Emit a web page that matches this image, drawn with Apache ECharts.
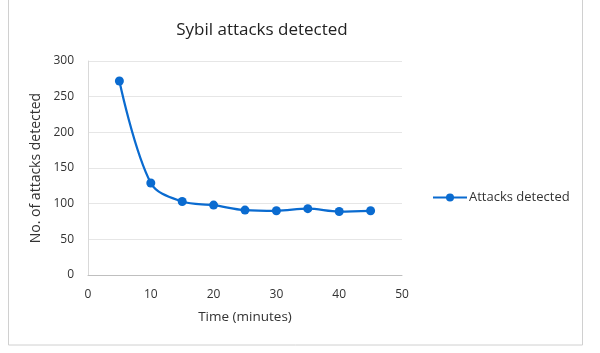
<!DOCTYPE html>
<html><head><meta charset="utf-8">
<script src="https://cdn.jsdelivr.net/npm/echarts@6/dist/echarts.min.js"></script>
<style>html,body{margin:0;padding:0;background:#fff}#c{width:600px;height:353px}</style>
</head><body><div id="c"></div>
<script>
const times = [5, 10, 15, 20, 25, 30, 35, 40, 45];
const attacks = [272, 129, 103, 98, 91, 90, 93, 89, 90];
const seriesName = 'Attacks detected';
const titleText = 'Sybil attacks detected';
const xName = 'Time (minutes)';
const yName = 'No. of attacks detected';

const chart = echarts.init(document.getElementById('c'), null, {renderer: 'canvas'});
const font = '"Open Sans", "Noto Sans", sans-serif';
chart.setOption({
  animation: false,
  graphic: [{type: 'rect', shape: {x: 8.5, y: -5, width: 574, height: 350}, style: {fill: 'none', stroke: '#d0d0d0', lineWidth: 1}, z: -1}],
  title: {text: titleText, left: 257, top: 17, textAlign: 'center',
    textStyle: {fontFamily: font, fontSize: 17, fontWeight: 'normal', color: '#222'}},
  legend: {data: [{name: seriesName}], left: 427, top: 186, itemWidth: 34, itemHeight: 10, itemGap: 2,
    textStyle: {fontFamily: font, fontSize: 13, color: '#333', padding: [0,0,0,-3]}},
  grid: {left: 88, right: 198, top: 61, bottom: 78},
  xAxis: {type: 'value', min: 0, max: 50, interval: 10, name: xName, nameLocation: 'middle', nameGap: 35,
    nameTextStyle: {fontFamily: font, fontSize: 13.5, color: '#333'},
    axisLine: {lineStyle: {color: '#bfbfbf'}}, axisTick: {show: false}, splitLine: {show: false},
    axisLabel: {fontFamily: font, fontSize: 12, color: '#333', margin: 14}},
  yAxis: {type: 'value', min: 0, max: 300, interval: 50, name: yName, nameLocation: 'middle', nameGap: 35,
    nameTextStyle: {fontFamily: font, fontSize: 14, color: '#333'},
    axisLine: {show: true, lineStyle: {color: '#d9d9d9'}}, axisTick: {show: false},
    splitLine: {lineStyle: {color: '#e6e6e6'}},
    axisLabel: {fontFamily: font, fontSize: 12, color: '#333', margin: 14}},
  series: [{name: seriesName, type: 'line', smooth: 0.35,
    data: times.map((t, i) => [t, attacks[i]]),
    symbol: 'circle', symbolSize: 9,
    lineStyle: {color: '#0a6bd0', width: 2.25}, itemStyle: {color: '#0a6bd0'}}]
});
</script></body></html>
